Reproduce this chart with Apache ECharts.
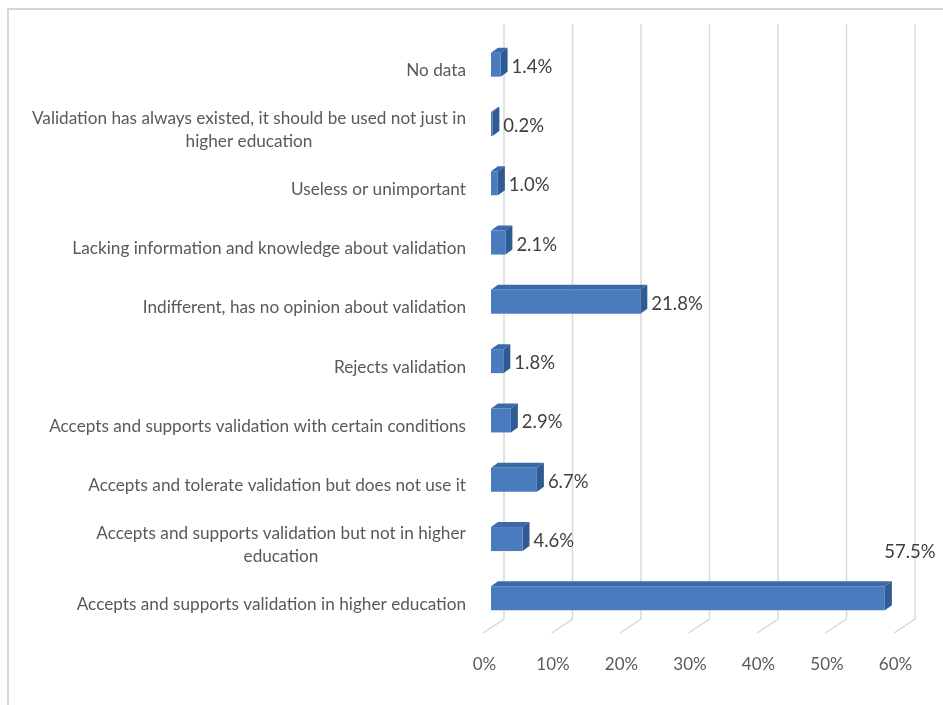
<!DOCTYPE html>
<html>
<head>
<meta charset="utf-8">
<script src="https://cdn.jsdelivr.net/npm/echarts@6/dist/echarts.min.js"></script>
<style>html,body{margin:0;padding:0;background:#fff}#c{width:943px;height:705px}</style>
</head>
<body>
<div id="c"></div>
<script>
// Categories, bottom to top
const categories = [
  'Accepts and supports validation in higher education',
  'Accepts and supports validation but not in higher\neducation',
  'Accepts and tolerate validation but does not use it',
  'Accepts and supports validation with certain conditions',
  'Rejects validation',
  'Indifferent, has no opinion about validation',
  'Lacking information and knowledge about validation',
  'Useless or unimportant',
  'Validation has always existed, it should be used not just in\nhigher education',
  'No data'
];
const values = [57.5, 4.6, 6.7, 2.9, 1.8, 21.8, 2.1, 1.0, 0.2, 1.4];
const xTicks = [0, 10, 20, 30, 40, 50, 60];

const FONT = 'Lato';
const labelSize = 17.2;
const ctx = document.createElement('canvas').getContext('2d');
ctx.font = labelSize + 'px ' + FONT;

const chart = echarts.init(document.getElementById('c'), null, {renderer: 'canvas'});

function lineWidthKey(v) {
  const lines = v.split('\n');
  return Math.round(Math.max.apply(null, lines.map(l => ctx.measureText(l).width)));
}
function catFormatter(v) {
  const lines = v.split('\n');
  if (lines.length === 1) return v;
  const w = lineWidthKey(v);
  return lines.map(l => '{c' + w + '|' + l + '}').join('\n');
}
const rich = {};
categories.forEach(v => {
  if (v.indexOf('\n') >= 0) {
    const w = lineWidthKey(v);
    rich['c' + w] = {width: w, align: 'center', fontSize: labelSize, fontFamily: FONT, color: '#595959', lineHeight: 23};
  }
});

const FRONT = '#4a7bbf', TOP = '#3d6aa6', SIDE = '#2f5a92';
const DX = 7, DY = 5, H = 24;

option = {
  animation: false,
  backgroundColor: '#ffffff',
  graphic: [
    {type: 'line', shape: {x1: 8, y1: 9, x2: 8, y2: 705}, style: {stroke: '#d6d6d6', lineWidth: 2}, z: 0},
    {type: 'line', shape: {x1: 7, y1: 9, x2: 943, y2: 9}, style: {stroke: '#d6d6d6', lineWidth: 2}, z: 0}
  ],
  grid: {left: 491, top: 35, width: 411, height: 593},
  xAxis: {
    type: 'value', min: 0, max: 60, interval: 10,
    axisLine: {show: false}, axisTick: {show: false}, splitLine: {show: false},
    axisLabel: {
      formatter: '{value}%', color: '#595959', fontSize: 17, fontFamily: FONT,
      margin: 28, padding: [0, 13, 0, 0]
    }
  },
  yAxis: {
    type: 'category', data: categories,
    axisLine: {show: false}, axisTick: {show: false}, splitLine: {show: false},
    axisLabel: {
      color: '#595959', fontSize: labelSize, fontFamily: FONT, margin: 25,
      lineHeight: 23, padding: [12, 0, 0, 0], formatter: catFormatter, rich: rich
    }
  },
  series: [
    {
      type: 'custom', silent: true, z: 1,
      data: xTicks.map(v => [v, 0]),
      renderItem: function (params, api) {
        const cs = params.coordSys;
        const x = api.coord([api.value(0), 0])[0];
        const bottom = cs.y + cs.height;
        return {
          type: 'polyline',
          shape: {points: [[x + 13, cs.y - 11], [x + 13, bottom - 9], [x - 8, bottom + 5]]},
          style: {stroke: '#d9d9d9', lineWidth: 1.5, fill: null}
        };
      }
    },
    {
      type: 'custom', z: 2,
      data: values.map((v, i) => [v, i]),
      renderItem: function (params, api) {
        const v = api.value(0);
        const p0 = api.coord([0, api.value(1)]);
        const p1 = api.coord([v, api.value(1)]);
        const x0 = p0[0], x1 = p1[0], yc = p0[1];
        const yt = yc - H / 2, yb = yc + H / 2;
        const big = v > 50;
        return {
          type: 'group',
          children: [
            {type: 'polygon', shape: {points: [[x0, yt], [x1, yt], [x1 + DX, yt - DY], [x0 + DX, yt - DY]]}, style: {fill: TOP}},
            {type: 'polygon', shape: {points: [[x1, yt], [x1 + DX, yt - DY], [x1 + DX, yb - DY], [x1, yb]]}, style: {fill: SIDE}},
            {type: 'rect', shape: {x: x0, y: yt, width: Math.max(x1 - x0, 0), height: H}, style: {fill: FRONT}},
            {
              type: 'text',
              x: big ? x1 + 25 : x1 + DX + 4,
              y: big ? yc - 46 : yc + 2,
              style: {
                text: v.toFixed(1) + '%', fill: '#404040', fontSize: 18.5, fontFamily: FONT,
                align: big ? 'center' : 'left', verticalAlign: 'middle'
              }
            }
          ]
        };
      }
    }
  ]
};
chart.setOption(option);
</script>
</body>
</html>
